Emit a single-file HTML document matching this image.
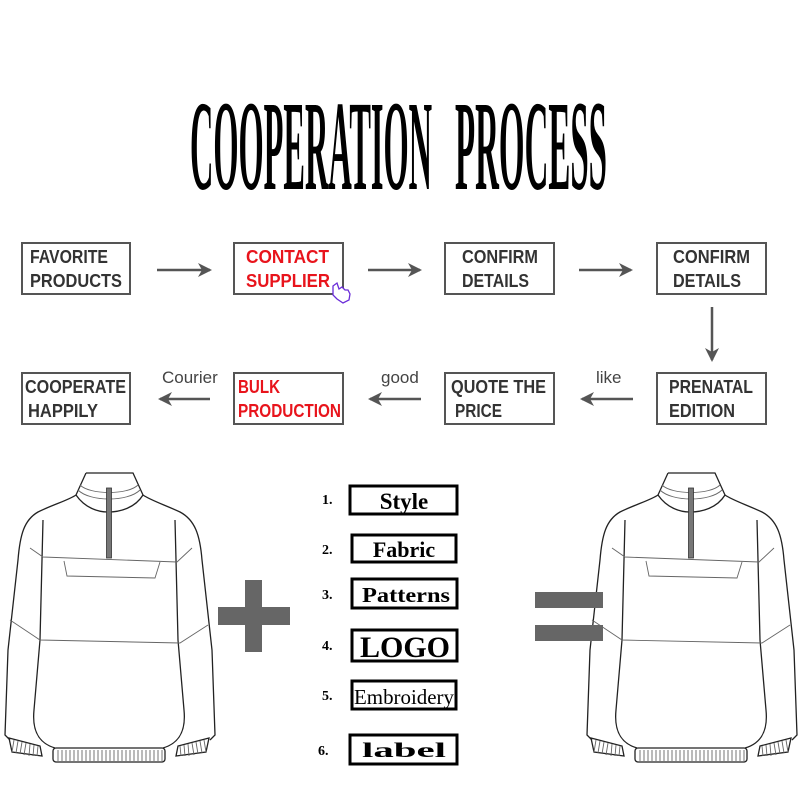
<!DOCTYPE html>
<html><head><style>
html,body{margin:0;padding:0;background:#fff;}
svg{display:block;}
.bx{fill:none;stroke:#555;stroke-width:2;}
.t{font-family:"Liberation Sans",sans-serif;font-size:18px;fill:#333;font-weight:bold;}
.r{fill:#e8141c;}
.lb{font-family:"Liberation Sans",sans-serif;font-size:17px;fill:#444;}
.sw{fill:none;stroke:#222;stroke-width:1.3;}
.sm{fill:none;stroke:#666;stroke-width:0.9;}
.lbox{fill:none;stroke:#000;stroke-width:3;}
.num{font-family:"Liberation Serif",serif;font-size:14px;fill:#000;font-weight:bold;}
.it{font-family:"Liberation Serif",serif;fill:#000;}
</style></head><body>
<svg width="800" height="800" viewBox="0 0 800 800" xmlns="http://www.w3.org/2000/svg">
<defs>
<marker id="ah" markerWidth="14" markerHeight="14" refX="12" refY="7" orient="auto" markerUnits="userSpaceOnUse">
<path d="M0,0 L14,7 L0,14 L4,7 z" fill="#555"/></marker>
<g id="sweater">
<path class="sw" d="M86,473 L133,473 L143,495 C150,500 165,505 180,512 C195,520 200,535 202,560 L212,650 L215,735 L210,740"/>
<path class="sw" d="M86,473 L76,495 C69,500 52,505 38,512 C24,520 20,535 18,560 L8,650 L5,735 L10,740"/>
<path class="sw" d="M76,495 C85,508 98,512 108,512 C120,512 135,508 143,495"/>
<path class="sm" d="M80,485 C90,495 128,495 138,485 M78,490 C90,502 128,502 140,490"/>
<rect x="106.5" y="488" width="5" height="70" fill="#777" stroke="#333" stroke-width="0.8"/>
<path class="sw" d="M43,520 L40,640 L34,710 C32,730 38,743 55,748"/>
<path class="sw" d="M175,520 L178,640 L184,710 C186,730 180,743 163,748"/>
<path class="sw" d="M9,738 L40,746 L42,756 L12,752 z"/>
<path class="sw" d="M209,738 L178,746 L176,756 L206,752 z"/>
<rect class="sw" x="53" y="748" width="112" height="14" rx="3"/>
<path class="sm" d="M58,750v11M62,750v11M66,750v11M70,750v11M74,750v11M78,750v11M82,750v11M86,750v11M90,750v11M94,750v11M98,750v11M102,750v11M106,750v11M110,750v11M114,750v11M118,750v11M122,750v11M126,750v11M130,750v11M134,750v11M138,750v11M142,750v11M146,750v11M150,750v11M154,750v11M158,750v11M162,750v11"/>
<path class="sm" d="M14,740l-2,12M18,741l-2,12M22,742l-2,12M26,743l-2,12M30,744l-1,12M34,745l-1,11M38,746l-1,10M204,740l2,12M200,741l2,12M196,742l2,12M192,743l2,12M188,744l1,12M184,745l1,11M180,746l1,10"/>
<path class="sm" d="M30,548 L43,557 L177,562 L192,548"/>
<path class="sm" d="M64,561 L67,576 L155,578 L160,562"/>
<path class="sm" d="M10,620 L40,640 L180,643 L208,625"/>
</g>
</defs>

<text x="190" y="189" font-family="Liberation Serif,serif" font-weight="bold" font-size="128" textLength="242" lengthAdjust="spacingAndGlyphs">COOPERATION</text>
<text x="455" y="189" font-family="Liberation Serif,serif" font-weight="bold" font-size="128" textLength="152" lengthAdjust="spacingAndGlyphs">PROCESS</text>

<!-- row 1 -->
<rect class="bx" x="22" y="243" width="108" height="51"/>
<text class="t" x="30" y="263" textLength="78" lengthAdjust="spacingAndGlyphs">FAVORITE</text><text class="t" x="30" y="287" textLength="92" lengthAdjust="spacingAndGlyphs">PRODUCTS</text>
<rect class="bx" x="234" y="243" width="109" height="51"/>
<text class="t r" x="246" y="263" textLength="83" lengthAdjust="spacingAndGlyphs">CONTACT</text><text class="t r" x="246" y="287" textLength="84" lengthAdjust="spacingAndGlyphs">SUPPLIER</text>
<path d="M333,286 l4,-3 l2,6 l3,-2 l3,3 l3,0 l2,4 l-1,6 l-6,3 l-6,-4 l-4,-4z" fill="#fff" stroke="#6a2cd8" stroke-width="1.3"/>
<rect class="bx" x="445" y="243" width="109" height="51"/>
<text class="t" x="462" y="263" textLength="76" lengthAdjust="spacingAndGlyphs">CONFIRM</text><text class="t" x="462" y="287" textLength="67" lengthAdjust="spacingAndGlyphs">DETAILS</text>
<rect class="bx" x="657" y="243" width="109" height="51"/>
<text class="t" x="673" y="263" textLength="77" lengthAdjust="spacingAndGlyphs">CONFIRM</text><text class="t" x="673" y="287" textLength="68" lengthAdjust="spacingAndGlyphs">DETAILS</text>
<line x1="157" y1="270" x2="210" y2="270" stroke="#555" stroke-width="2.5" marker-end="url(#ah)"/>
<line x1="368" y1="270" x2="420" y2="270" stroke="#555" stroke-width="2.5" marker-end="url(#ah)"/>
<line x1="579" y1="270" x2="631" y2="270" stroke="#555" stroke-width="2.5" marker-end="url(#ah)"/>
<line x1="712" y1="307" x2="712" y2="360" stroke="#555" stroke-width="2.5" marker-end="url(#ah)"/>

<!-- row 2 -->
<rect class="bx" x="22" y="373" width="108" height="51"/>
<text class="t" x="25" y="393" textLength="101" lengthAdjust="spacingAndGlyphs">COOPERATE</text><text class="t" x="28" y="417" textLength="70" lengthAdjust="spacingAndGlyphs">HAPPILY</text>
<rect class="bx" x="234" y="373" width="109" height="51"/>
<text class="t r" x="238" y="393" textLength="42" lengthAdjust="spacingAndGlyphs">BULK</text><text class="t r" x="238" y="417" textLength="103" lengthAdjust="spacingAndGlyphs">PRODUCTION</text>
<rect class="bx" x="445" y="373" width="109" height="51"/>
<text class="t" x="451" y="393" textLength="95" lengthAdjust="spacingAndGlyphs">QUOTE THE</text><text class="t" x="455" y="417" textLength="47" lengthAdjust="spacingAndGlyphs">PRICE</text>
<rect class="bx" x="657" y="373" width="109" height="51"/>
<text class="t" x="669" y="393" textLength="84" lengthAdjust="spacingAndGlyphs">PRENATAL</text><text class="t" x="669" y="417" textLength="66" lengthAdjust="spacingAndGlyphs">EDITION</text>
<line x1="210" y1="399" x2="160" y2="399" stroke="#555" stroke-width="2.5" marker-end="url(#ah)"/>
<line x1="421" y1="399" x2="370" y2="399" stroke="#555" stroke-width="2.5" marker-end="url(#ah)"/>
<line x1="633" y1="399" x2="582" y2="399" stroke="#555" stroke-width="2.5" marker-end="url(#ah)"/>
<text class="lb" x="162" y="383">Courier</text>
<text class="lb" x="381" y="383">good</text>
<text class="lb" x="596" y="383">like</text>

<!-- sweaters -->
<use href="#sweater"/>
<use href="#sweater" transform="translate(582,0)"/>

<!-- plus -->
<rect x="245" y="580" width="17" height="72" fill="#666"/>
<rect x="218" y="607" width="72" height="18" fill="#666"/>
<!-- equals -->
<rect x="535" y="592" width="68" height="16" fill="#666"/>
<rect x="535" y="625" width="68" height="16" fill="#666"/>

<!-- list -->
<text class="num" x="322" y="504">1.</text>
<rect class="lbox" x="350" y="486" width="107" height="28"/>
<text class="it" x="404" y="509" font-size="23" font-weight="bold" text-anchor="middle">Style</text>
<text class="num" x="322" y="554">2.</text>
<rect class="lbox" x="352" y="535" width="104" height="27"/>
<text class="it" x="404" y="557" font-size="22" font-weight="bold" text-anchor="middle">Fabric</text>
<text class="num" x="322" y="599">3.</text>
<rect class="lbox" x="352" y="579" width="105" height="29"/>
<text class="it" x="406" y="602" font-size="21" font-weight="bold" text-anchor="middle" textLength="88" lengthAdjust="spacingAndGlyphs">Patterns</text>
<text class="num" x="322" y="650">4.</text>
<rect class="lbox" x="352" y="630" width="105" height="31"/>
<text class="it" x="405" y="657" font-size="30" font-weight="bold" text-anchor="middle">LOGO</text>
<text class="num" x="322" y="700">5.</text>
<rect class="lbox" x="352" y="681" width="104" height="28"/>
<text class="it" x="404" y="704" font-size="21" text-anchor="middle" textLength="100" lengthAdjust="spacingAndGlyphs">Embroidery</text>
<text class="num" x="318" y="755" font-size="17">6.</text>
<rect class="lbox" x="350" y="735" width="107" height="29"/>
<text class="it" x="404" y="757" font-size="21" font-weight="bold" text-anchor="middle" textLength="84" lengthAdjust="spacingAndGlyphs">label</text>
</svg>
</body></html>
